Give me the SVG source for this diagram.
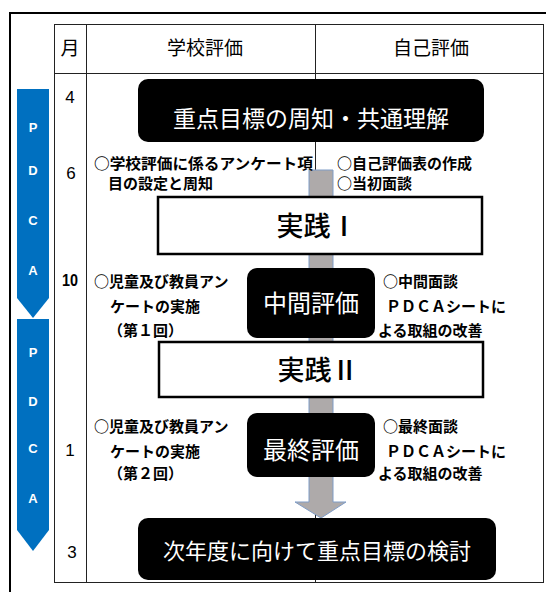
<svg xmlns="http://www.w3.org/2000/svg" width="546" height="592" viewBox="0 0 546 592">
<style>
.body{font-family:"Noto Sans CJK JP",sans-serif;font-size:15px;font-weight:bold;fill:#000}
.hdr{font-family:"Noto Sans CJK JP",sans-serif;font-size:19px;fill:#000}
.mon{font-family:"Liberation Sans",Arial,sans-serif;font-size:17px;fill:#000;text-anchor:middle}
.pdca{font-family:"Liberation Sans",Arial,sans-serif;font-size:13px;font-weight:bold;fill:#fff;text-anchor:middle}
.blk{fill:#000}
.wtxt{font-family:"Noto Sans CJK JP",sans-serif;fill:#fff;text-anchor:middle}
.btxt{font-family:"Noto Sans CJK JP",sans-serif;fill:#000;text-anchor:middle;font-weight:500}
.tl{stroke:#222;stroke-width:1;fill:none}
.blue{fill:#0070C0}
</style>
<rect x="0" y="0" width="546" height="592" fill="#fff"/>
<rect x="10" y="13" width="600" height="600" fill="none" stroke="#000" stroke-width="2"/>
<g id="table">
<rect class="tl" x="54.5" y="24.5" width="489" height="558"/>
<line class="tl" x1="86.5" y1="24" x2="86.5" y2="583"/>
<line class="tl" x1="315.5" y1="24" x2="315.5" y2="583"/>
<line class="tl" x1="54" y1="73.5" x2="544" y2="73.5"/>
<text class="hdr" x="70" y="55" text-anchor="middle">月</text>
<text class="hdr" x="205" y="55" text-anchor="middle">学校評価</text>
<text class="hdr" x="431" y="55" text-anchor="middle">自己評価</text>
<text class="mon" x="70" y="103">4</text>
<text class="mon" x="71" y="179">6</text>
<text class="mon" x="70" y="286" font-weight="bold" font-size="15" textLength="16" lengthAdjust="spacingAndGlyphs">10</text>
<text class="mon" x="70" y="456">1</text>
<text class="mon" x="72" y="558">3</text>
</g>
<g id="pdca1">
<polygon class="blue" points="17,89 49,89 49,298 33,318 17,298"/>
<text class="pdca" x="33" y="132">P</text>
<text class="pdca" x="33" y="175">D</text>
<text class="pdca" x="33" y="225">C</text>
<text class="pdca" x="33" y="275">A</text>
</g>
<g id="pdca2">
<polygon class="blue" points="17,319 49,319 49,530 33,551 17,530"/>
<text class="pdca" x="33" y="357">P</text>
<text class="pdca" x="33" y="406">D</text>
<text class="pdca" x="33" y="453">C</text>
<text class="pdca" x="33" y="503">A</text>
</g>
<g id="connectors">
<polygon points="309,170 333,170 333,502 346,502 321,518 295,502 309,502" fill="#AEAAAA" stroke="#7F9CC6" stroke-width="1"/>
</g>
<g id="n-goal">
<rect class="blk" x="138" y="79" width="346" height="63" rx="10"/>
<text class="wtxt" x="311" y="127" font-size="23">重点目標の周知・共通理解</text>
</g>
<g id="t-row6">
<text class="body" x="94" y="169" textLength="219" lengthAdjust="spacingAndGlyphs">○学校評価に係るアンケート項</text>
<text class="body" x="108" y="189">目の設定と周知</text>
<text class="body" x="337" y="169">○自己評価表の作成</text>
<text class="body" x="337" y="189">○当初面談</text>
</g>
<g id="n-jissen1">
<rect x="158" y="197" width="324" height="57" fill="#fff" stroke="#000" stroke-width="2.5"/>
<text class="btxt" x="317" y="236" font-size="27">実践Ⅰ</text>
</g>
<g id="n-chukan">
<rect class="blk" x="247" y="268" width="128" height="70" rx="10"/>
<text class="wtxt" x="311" y="312" font-size="24">中間評価</text>
</g>
<g id="t-row10">
<text class="body" x="94" y="287">○児童及び教員アン</text>
<text class="body" x="110" y="312">ケートの実施</text>
<text class="body" x="108" y="336">（第１回）</text>
<text class="body" x="383" y="287">○中間面談</text>
<text class="body" x="386" y="312">ＰＤＣＡシートに</text>
<text class="body" x="378" y="336">よる取組の改善</text>
</g>
<g id="n-jissen2">
<rect x="159" y="342" width="324" height="55" fill="#fff" stroke="#000" stroke-width="2.5"/>
<text class="btxt" x="318" y="380" font-size="27">実践Ⅱ</text>
</g>
<g id="n-saishu">
<rect class="blk" x="247" y="413" width="128" height="64" rx="10"/>
<text class="wtxt" x="311" y="459" font-size="24">最終評価</text>
</g>
<g id="t-row1">
<text class="body" x="94" y="432">○児童及び教員アン</text>
<text class="body" x="110" y="457">ケートの実施</text>
<text class="body" x="108" y="479">（第２回）</text>
<text class="body" x="383" y="432">○最終面談</text>
<text class="body" x="386" y="457">ＰＤＣＡシートに</text>
<text class="body" x="378" y="479">よる取組の改善</text>
</g>
<g id="n-next">
<rect class="blk" x="138" y="518" width="358" height="62" rx="10"/>
<text class="wtxt" x="317" y="559" font-size="22">次年度に向けて重点目標の検討</text>
</g>
</svg>
